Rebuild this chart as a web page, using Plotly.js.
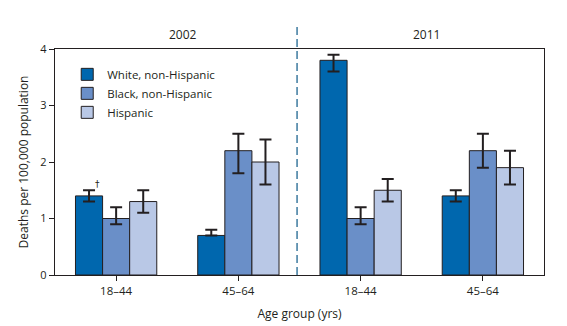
<!DOCTYPE html>
<html>
<head>
<meta charset="utf-8">
<script src="https://cdn.plot.ly/plotly-3.0.1.min.js"></script>
<style>html,body{margin:0;padding:0;background:#fff;}</style>
</head>
<body>
<div id="chart" style="width:567px;height:326px;"></div>
<script>
// Data
const ageGroups = ['18–44', '45–64', '18–44', '45–64'];
const years = ['2002', '2011'];
const seriesNames = ['White, non-Hispanic', 'Black, non-Hispanic', 'Hispanic'];
const whiteVals = [1.4, 0.7, 3.8, 1.4];
const whiteLow  = [1.3, 0.7, 3.6, 1.3];
const whiteHigh = [1.5, 0.8, 3.9, 1.5];
const blackVals = [1.0, 2.2, 1.0, 2.2];
const blackLow  = [0.9, 1.8, 0.9, 1.9];
const blackHigh = [1.2, 2.5, 1.2, 2.5];
const hispVals  = [1.3, 2.0, 1.5, 1.9];
const hispLow   = [1.1, 1.6, 1.3, 1.6];
const hispHigh  = [1.5, 2.4, 1.7, 2.2];
const colors = ['#0067ae', '#6a8fc8', '#b9c8e6'];

const xPos = ageGroups.map((_, i) => i);
const FONT = 'Open Sans, Noto Sans, sans-serif';
const TXT = '#231f20';

function mk(name, vals, low, high, color) {
  return {
    type: 'bar', name: name, x: xPos, y: vals,
    marker: {color: color, line: {color: '#231f20', width: 1}},
    error_y: {
      type: 'data', symmetric: false,
      array: high.map((h, i) => +(h - vals[i]).toFixed(3)),
      arrayminus: low.map((l, i) => +(vals[i] - l).toFixed(3)),
      color: '#231f20', thickness: 2, width: 6
    },
    hoverinfo: 'y'
  };
}

const traces = [
  mk(seriesNames[0], whiteVals, whiteLow, whiteHigh, colors[0]),
  mk(seriesNames[1], blackVals, blackLow, blackHigh, colors[1]),
  mk(seriesNames[2], hispVals, hispLow, hispHigh, colors[2])
];

const layout = {
  width: 567, height: 326,
  margin: {l: 55, r: 23, t: 49, b: 51},
  paper_bgcolor: '#fff', plot_bgcolor: '#fff',
  font: {family: FONT, size: 11, color: TXT},
  barmode: 'group', bargap: 0.335, bargroupgap: 0,
  showlegend: true,
  legend: {
    x: 0.025, y: 0.952, xanchor: 'left', yanchor: 'top',
    bgcolor: 'rgba(0,0,0,0)', font: {family: FONT, size: 11.5, color: TXT},
    tracegroupgap: 0, itemwidth: 30
  },
  xaxis: {
    range: [-0.5, 3.5], tickvals: xPos, ticktext: ageGroups,
    showgrid: false, zeroline: false,
    showline: true, linecolor: '#231f20', linewidth: 1.2, mirror: true,
    ticks: 'outside', ticklen: 5, tickcolor: '#231f20',
    tickfont: {family: FONT, size: 11.5, color: TXT},
    title: {text: 'Age group (yrs)', font: {family: FONT, size: 12, color: TXT}, standoff: 12}
  },
  yaxis: {
    range: [0, 4], dtick: 1, showgrid: false, zeroline: false,
    showline: true, linecolor: '#231f20', linewidth: 1.2, mirror: true,
    ticks: 'outside', ticklen: 5, tickcolor: '#231f20',
    tickfont: {family: FONT, size: 11, color: TXT},
    title: {text: 'Deaths per 100,000 population', font: {family: FONT, size: 12, color: TXT}, standoff: 9}
  },
  shapes: [{
    type: 'line', xref: 'x', yref: 'paper', x0: 1.48, x1: 1.48, y0: 0, y1: 1.107,
    line: {color: '#1f6690', width: 1.3, dash: '8px,4px'}
  }],
  annotations: [
    {xref: 'x', yref: 'paper', x: 0.55, y: 1.065, text: years[0], showarrow: false,
     font: {family: FONT, size: 12, color: TXT}, yanchor: 'middle'},
    {xref: 'x', yref: 'paper', x: 2.54, y: 1.065, text: years[1], showarrow: false,
     font: {family: FONT, size: 12, color: TXT}, yanchor: 'middle'},
    {xref: 'x', yref: 'y', x: -0.15, y: whiteHigh[0], text: '†', showarrow: false,
     font: {family: 'DejaVu Sans, sans-serif', size: 9, color: '#231f20'}, yanchor: 'bottom', yshift: -1}
  ]
};

Plotly.newPlot('chart', traces, layout, {displayModeBar: false, staticPlot: true});
</script>
</body>
</html>
